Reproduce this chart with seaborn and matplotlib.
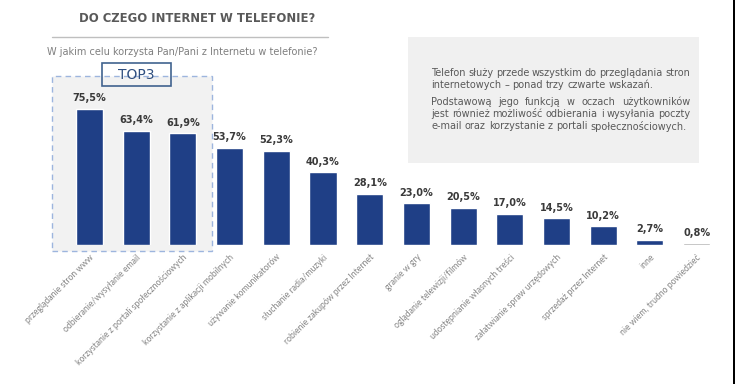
import matplotlib
matplotlib.use("Agg")
import matplotlib.pyplot as plt
import seaborn as sns
import pandas as pd
from matplotlib.patches import Rectangle
from matplotlib.lines import Line2D

categories = [
    "przeglądanie stron www",
    "odbieranie/wysyłanie email",
    "korzystanie z portali społecznościowych",
    "korzystanie z aplikacji mobilnych",
    "używanie komunikatorów",
    "słuchanie radia/muzyki",
    "robienie zakupów przez Internet",
    "granie w gry",
    "oglądanie telewizji/filmów",
    "udostępnianie własnych treści",
    "załatwianie spraw urzędowych",
    "sprzedaż przez Internet",
    "inne",
    "nie wiem, trudno powiedzieć",
]
values = [75.5, 63.4, 61.9, 53.7, 52.3, 40.3, 28.1, 23.0, 20.5, 17.0, 14.5, 10.2, 2.7, 0.8]
value_labels = ["75,5%", "63,4%", "61,9%", "53,7%", "52,3%", "40,3%", "28,1%",
                "23,0%", "20,5%", "17,0%", "14,5%", "10,2%", "2,7%", "0,8%"]

title = "DO CZEGO INTERNET W TELEFONIE?"
subtitle = "W jakim celu korzysta Pan/Pani z Internetu w telefonie?"
note_para1 = ["Telefon służy przede wszystkim do przeglądania stron",
              "internetowych – ponad trzy czwarte wskazań."]
note_para2 = ["Podstawową jego funkcją w oczach użytkowników",
              "jest również możliwość odbierania i wysyłania poczty",
              "e-mail oraz korzystanie z portali społecznościowych."]
top_label = "TOP3"

BLUE = "#1f3f86"
GRAY_BAR = "#a6a6a6"
colors = [BLUE] * (len(values) - 1) + [GRAY_BAR]

sns.set_theme(style="white")
plt.rcParams["font.family"] = ["DejaVu Sans"]

W, H = 735, 384
fig = plt.figure(figsize=(W / 100, H / 100), dpi=100)
renderer = fig.canvas.get_renderer()

def fx(x):
    return x / W

def fy(y):
    return 1 - y / H

# Top3 background box (behind axes)
fig.patches.append(Rectangle((fx(52), fy(251)), fx(212) - fx(52), fy(76) - fy(251),
                             transform=fig.transFigure, facecolor="#f2f2f2",
                             edgecolor="#9db5de", linestyle=(0, (4, 3)), linewidth=1.0, zorder=-2))
# Note box
fig.patches.append(Rectangle((fx(408), fy(163)), fx(699) - fx(408), fy(37) - fy(163),
                             transform=fig.transFigure, facecolor="#f0f0f0",
                             edgecolor="none", zorder=-2))

# axes: category pitch 46.7 px, first center 89.5 px; baseline 244.5 px, 1.797 px per %
pitch = 46.7
left_px = 89.5 - 0.5 * pitch
ax = fig.add_axes([fx(left_px), fy(244.5), (len(values) * pitch) / W, (80 * 1.797) / H])
ax.set_zorder(1)
ax.patch.set_alpha(0)

df = pd.DataFrame({"cat": categories, "val": values})
sns.barplot(data=df, x="cat", y="val", hue="cat", palette=colors, legend=False,
            width=0.58, ax=ax, saturation=1)
ax.set_xlim(-0.5, len(values) - 0.5)
ax.set_ylim(0, 80)
for s in ax.spines.values():
    s.set_visible(False)
ax.set_yticks([])
ax.set_xlabel("")
ax.set_ylabel("")
ax.tick_params(axis="x", length=0, pad=6)
ax.set_xticks(range(len(categories)))
ax.set_xticklabels(categories, rotation=45, ha="right", rotation_mode="anchor",
                   fontsize=6.2, color="#858585", family="Lato")

for bar, lab in zip(ax.patches, value_labels):
    ax.annotate(lab, (bar.get_x() + bar.get_width() / 2, bar.get_height()),
                xytext=(0, 4), textcoords="offset points", ha="center", va="bottom",
                fontsize=7.0, fontweight="bold", color="#3a3a3a")

# TOP3 label box
fig.patches.append(Rectangle((fx(102), fy(86)), fx(171) - fx(102), fy(63) - fy(86),
                             transform=fig.transFigure, facecolor="none",
                             edgecolor="#41638f", linewidth=1.2, zorder=5))
fig.text(fx(136.5), fy(75), top_label, ha="center", va="center", fontsize=10,
         color="#2f4f80", zorder=6)

# Title, rule, subtitle
fig.text(fx(197), fy(18), title, ha="center", va="center", fontsize=8.4,
         fontweight="bold", color="#595959")
fig.lines.append(Line2D([fx(52), fx(328)], [fy(37), fy(37)], transform=fig.transFigure,
                        color="#bfbfbf", linewidth=1.0))
fig.text(fx(182), fy(52), subtitle, ha="center", va="center", fontsize=7.0, color="#7f7f7f")

# Note text, justified
NOTE_FS = 7.0
NOTE_L, NOTE_R = 431, 690

def word_width(w):
    t = fig.text(0, 0, w, fontsize=NOTE_FS)
    bb = t.get_window_extent(renderer=renderer)
    t.remove()
    return bb.width

space_w = word_width("a b") - word_width("ab")

def draw_line(text, y, justify):
    words = text.split(" ")
    widths = [word_width(w) for w in words]
    if justify and len(words) > 1:
        gap = (NOTE_R - NOTE_L - sum(widths)) / (len(words) - 1)
    else:
        gap = space_w
    x = NOTE_L
    for w, wd in zip(words, widths):
        fig.text(fx(x), fy(y), w, ha="left", va="center", fontsize=NOTE_FS, color="#595959")
        x += wd + gap

for i, (t, y) in enumerate(zip(note_para1, [73, 85.5])):
    draw_line(t, y, i < len(note_para1) - 1)
for i, (t, y) in enumerate(zip(note_para2, [102, 114, 126])):
    draw_line(t, y, i < len(note_para2) - 1)

# right black edge
fig.patches.append(Rectangle((fx(732.5), 0), fx(735) - fx(732.5), 1,
                             transform=fig.transFigure, facecolor="black",
                             edgecolor="none", zorder=10))

fig.savefig("out.png", dpi=100, facecolor="white")
